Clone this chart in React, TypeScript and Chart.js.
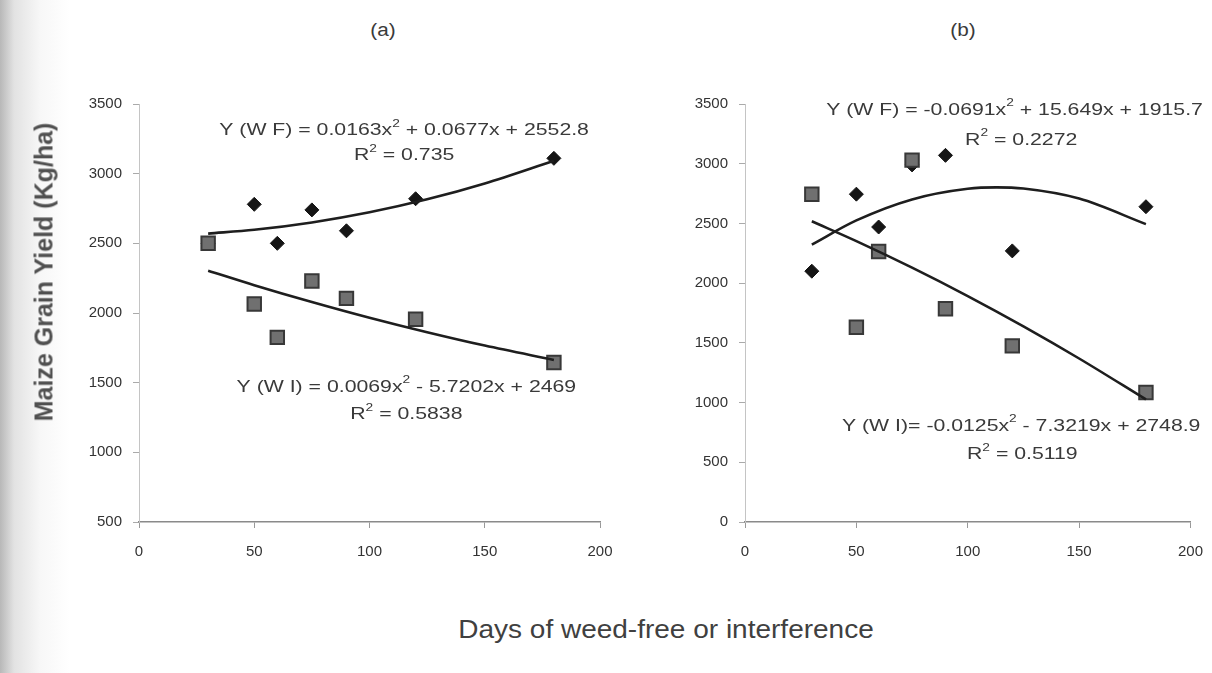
import React, { useEffect, useRef } from "react";
import { Chart, registerables } from "chart.js";
Chart.register(...registerables);

// ---- data ----
const days = [30, 50, 60, 75, 90, 120, 180];
const wfA = [2500, 2780, 2500, 2740, 2590, 2820, 3110];
const wiA = [2500, 2065, 1825, 2230, 2105, 1955, 1645];
const trendDaysA = [30, 50, 75, 100, 125, 150, 180];
const wfTrendA = [2570, 2597, 2650, 2723, 2816, 2930, 3093];
const wiTrendA = [2304, 2200, 2079, 1966, 1862, 1766, 1663];

const wfB = [2100, 2745, 2470, 2990, 3070, 2270, 2640];
const wiB = [2745, 1630, 2265, 3030, 1785, 1475, 1085];
const trendDaysBwf = [30, 50, 75, 100, 113, 125, 150, 180];
const wfTrendB = [2323, 2525, 2701, 2790, 2802, 2792, 2708, 2494];
const trendDaysBwi = [30, 50, 75, 100, 125, 150, 180];
const wiTrendB = [2518, 2352, 2130, 1892, 1638, 1369, 1026];

const xTicks = [0, 50, 100, 150, 200];
const yTicksA = [500, 1000, 1500, 2000, 2500, 3000, 3500];
const yTicksB = [0, 500, 1000, 1500, 2000, 2500, 3000, 3500];

// equation labels: segments, superscripts flagged
const eqWFA = [["Y (W F) = 0.0163x", false], ["2", true], [" + 0.0677x + 2552.8", false]];
const r2WFA = [["R", false], ["2", true], [" = 0.735", false]];
const eqWIA = [["Y (W I) = 0.0069x", false], ["2", true], [" - 5.7202x + 2469", false]];
const r2WIA = [["R", false], ["2", true], [" = 0.5838", false]];
const eqWFB = [["Y (W F) = -0.0691x", false], ["2", true], [" + 15.649x + 1915.7", false]];
const r2WFB = [["R", false], ["2", true], [" = 0.2272", false]];
const eqWIB = [["Y (W I)= -0.0125x", false], ["2", true], [" - 7.3219x + 2748.9", false]];
const r2WIB = [["R", false], ["2", true], [" = 0.5119", false]];

const FONT = '"Liberation Sans", Arial, sans-serif';
const STRETCH = 1.25;

const notesPlugin = {
  id: "notes",
  afterDatasetsDraw(chart: any, _args: any, opts: any) {
    const { ctx, scales } = chart;
    for (const n of opts.items || []) {
      const px = scales.x.getPixelForValue(n.x);
      const py = scales.y.getPixelForValue(n.y);
      ctx.save();
      ctx.translate(px, py);
      ctx.scale(STRETCH, 1);
      ctx.fillStyle = "#3a3a3a";
      ctx.textBaseline = "middle";
      ctx.textAlign = "left";
      const main = `17px ${FONT}`;
      const sup = `11px ${FONT}`;
      let total = 0;
      const widths: number[] = [];
      for (const [t, s] of n.segs) {
        ctx.font = s ? sup : main;
        const w = ctx.measureText(t).width;
        widths.push(w);
        total += w;
      }
      let cx = -total / 2;
      n.segs.forEach(([t, s]: any, i: number) => {
        ctx.font = s ? sup : main;
        ctx.fillText(t, cx, s ? -7 : 0);
        cx += widths[i];
      });
      ctx.restore();
    }
  },
};

function makeConfig(
  wf: number[],
  wi: number[],
  tWfX: number[],
  tWf: number[],
  tWiX: number[],
  tWi: number[],
  yMin: number,
  yTicks: number[],
  yWidth: number,
  xHeight: number,
  right: number,
  notes: any[]
): any {
  const pts = (xs: number[], ys: number[]) => xs.map((x, i) => ({ x, y: ys[i] }));
  const lineDs = (data: any[]) => ({
    type: "line",
    data,
    borderColor: "#1e1e1e",
    borderWidth: 2.6,
    pointRadius: 0,
    fill: false,
    cubicInterpolationMode: "monotone",
  });
  return {
    type: "scatter",
    data: {
      datasets: [
        lineDs(pts(tWfX, tWf)),
        lineDs(pts(tWiX, tWi)),
        {
          data: pts(days, wi),
          pointStyle: "rect",
          pointRadius: 9.5,
          backgroundColor: "#707070",
          borderColor: "#383838",
          borderWidth: 2,
        },
        {
          data: pts(days, wf),
          pointStyle: "rectRot",
          pointRadius: 7,
          backgroundColor: "#151515",
          borderColor: "#151515",
          borderWidth: 1,
        },
      ],
    },
    options: {
      responsive: false,
      animation: false,
      devicePixelRatio: 1,
      layout: { padding: { left: 0, right, top: 44, bottom: 0 } },
      plugins: {
        legend: { display: false },
        tooltip: { enabled: false },
        notes: { items: notes },
      },
      scales: {
        x: {
          type: "linear",
          min: 0,
          max: 200,
          afterBuildTicks: (s: any) => {
            s.ticks = xTicks.map((v) => ({ value: v }));
          },
          afterFit: (s: any) => {
            s.height = xHeight;
          },
          ticks: {
            color: "#333",
            font: { family: FONT, size: 15 },
            padding: 15,
            callback: (v: any) => String(v),
          },
          grid: { drawOnChartArea: false, drawTicks: true, tickLength: 6, color: "#999" },
          border: { display: true, color: "#8a8a8a", width: 1.5 },
        },
        y: {
          type: "linear",
          min: yMin,
          max: 3500,
          afterBuildTicks: (s: any) => {
            s.ticks = yTicks.map((v) => ({ value: v }));
          },
          afterFit: (s: any) => {
            s.width = yWidth;
          },
          ticks: {
            color: "#333",
            font: { family: FONT, size: 15 },
            padding: 11,
            callback: (v: any) => String(v),
          },
          grid: { drawOnChartArea: false, drawTicks: true, tickLength: 6, color: "#aaa" },
          border: { display: true, color: "#c4c4c4", width: 1 },
        },
      },
    },
    plugins: [notesPlugin],
  };
}

export default function App() {
  const refA = useRef<HTMLCanvasElement>(null);
  const refB = useRef<HTMLCanvasElement>(null);

  useEffect(() => {
    document.body.style.margin = "0";
    const a = new Chart(
      refA.current!,
      makeConfig(wfA, wiA, trendDaysA, wfTrendA, trendDaysA, wiTrendA, 500, yTicksA, 89, 78, 30, [
        { x: 115, y: 3310, segs: eqWFA },
        { x: 115, y: 3130, segs: r2WFA },
        { x: 116, y: 1470, segs: eqWIA },
        { x: 116, y: 1270, segs: r2WIA },
      ])
    );
    const b = new Chart(
      refB.current!,
      makeConfig(wfB, wiB, trendDaysBwf, wfTrendB, trendDaysBwi, wiTrendB, 0, yTicksB, 99, 78, 22, [
        { x: 121, y: 3450, segs: eqWFB },
        { x: 124, y: 3200, segs: r2WFB },
        { x: 124, y: 800, segs: eqWIB },
        { x: 124.5, y: 565, segs: r2WIB },
      ])
    );
    return () => {
      a.destroy();
      b.destroy();
    };
  }, []);

  const txt: React.CSSProperties = {
    position: "absolute",
    fontFamily: FONT,
    color: "#3a3a3a",
    whiteSpace: "nowrap",
  };

  return (
    <div
      style={{
        position: "relative",
        width: 1212,
        height: 673,
        overflow: "hidden",
        background: "linear-gradient(to right, #b8b8b8 0px, #e2e2e2 14px, #f7f7f7 40px, #ffffff 70px)",
      }}
    >
      <canvas ref={refA} width={580} height={540} style={{ position: "absolute", left: 50, top: 60 }} />
      <canvas ref={refB} width={572} height={540} style={{ position: "absolute", left: 646, top: 60 }} />
      <div style={{ ...txt, left: 383, top: 30, fontSize: 18, transform: "translate(-50%,-50%) scaleX(1.15)" }}>(a)</div>
      <div style={{ ...txt, left: 963, top: 30, fontSize: 18, transform: "translate(-50%,-50%) scaleX(1.15)" }}>(b)</div>
      <div
        style={{
          ...txt,
          left: 44,
          top: 272,
          fontSize: 25,
          fontWeight: "bold",
          color: "#505050",
          transform: "translate(-50%,-50%) rotate(-90deg)",
        }}
      >
        Maize Grain Yield (Kg/ha)
      </div>
      <div
        style={{
          ...txt,
          left: 666,
          top: 629,
          fontSize: 25,
          color: "#404040",
          transform: "translate(-50%,-50%) scaleX(1.12)",
        }}
      >
        Days of weed-free or interference
      </div>
    </div>
  );
}
